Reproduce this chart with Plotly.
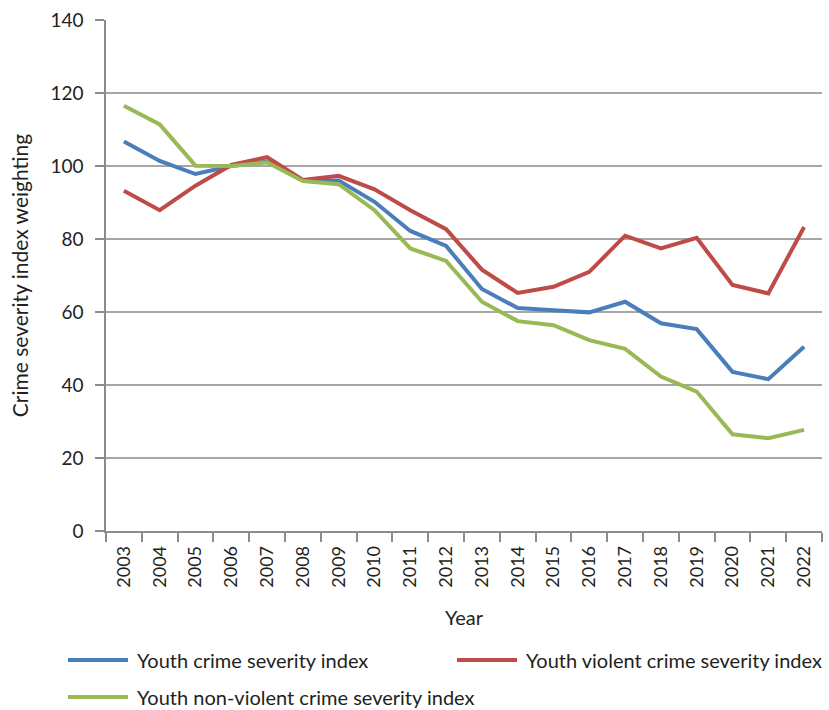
import plotly.graph_objects as go

years = [str(y) for y in range(2003, 2023)]

youth_crime_severity = [106.7, 101.4, 97.8, 100.0, 101.2, 96.1, 96.0, 90.2, 82.2, 78.1,
                        66.3, 61.1, 60.5, 59.9, 62.8, 56.9, 55.3, 43.6, 41.6, 50.5]
youth_violent_severity = [93.2, 87.9, 94.6, 100.3, 102.4, 96.2, 97.3, 93.6, 87.9, 82.7,
                          71.6, 65.2, 66.9, 71.0, 80.9, 77.4, 80.3, 67.4, 65.1, 83.3]
youth_nonviolent_severity = [116.5, 111.4, 100.1, 100.0, 101.0, 95.9, 95.0, 87.9, 77.4, 74.0,
                             62.8, 57.5, 56.4, 52.3, 49.9, 42.3, 38.2, 26.5, 25.4, 27.7]

series_names = ["Youth crime severity index",
                "Youth violent crime severity index",
                "Youth non-violent crime severity index"]
series_values = [youth_crime_severity, youth_violent_severity, youth_nonviolent_severity]
series_colors = ["#4a7ebb", "#be4b48", "#98b954"]

FONT = "Lato"
TEXT = "#231f20"
AXIS = "#8c8c8c"

# plot area in pixels: x 106..822, y 20..531
W, H = 829, 710
L, R, T, B = 106, 7, 20, 179
PW, PH = W - L - R, H - T - B


def px_x(x):
    return (x - L) / PW


def px_y(y):
    return (H - B - y) / PH


fig = go.Figure()
for name, vals, color in zip(series_names, series_values, series_colors):
    fig.add_trace(go.Scatter(
        x=years, y=vals, name=name, mode="lines",
        line=dict(color=color, width=4), showlegend=False,
    ))

# legend drawn below the chart: two entries on the first row, one on the second
legend_slots = [(68, 660), (457, 660), (68, 697)]
for (lx, ly), name, color in zip(legend_slots, series_names, series_colors):
    fig.add_shape(type="line", xref="paper", yref="paper",
                  x0=px_x(lx), x1=px_x(lx + 60), y0=px_y(ly), y1=px_y(ly),
                  line=dict(color=color, width=4))
    fig.add_annotation(xref="paper", yref="paper", x=px_x(lx + 67), y=px_y(ly),
                       xanchor="left", yanchor="middle", showarrow=False,
                       text=name, font=dict(family=FONT, size=20, color=TEXT))

fig.update_layout(
    width=W, height=H,
    margin=dict(l=L, r=R, t=T, b=B, autoexpand=False),
    paper_bgcolor="white", plot_bgcolor="white",
    font=dict(family=FONT, size=20, color=TEXT),
    showlegend=False,
)

fig.update_xaxes(
    type="category", range=[-0.5, 19.5],
    tickson="boundaries", ticks="outside", ticklen=9, tickcolor=AXIS, tickwidth=1.5,
    tickangle=-90, tickfont=dict(size=18, color=TEXT), ticklabelstandoff=6,
    showgrid=False, showline=True, linecolor=AXIS, linewidth=1.5,
    title=dict(text="Year", font=dict(size=20), standoff=24),
    automargin=False,
)
fig.update_yaxes(
    range=[0, 140], dtick=20, ticks="outside", ticklen=9, tickcolor=AXIS, tickwidth=1.5,
    tickfont=dict(size=19, color=TEXT), ticklabelstandoff=8,
    showgrid=True, gridcolor="#a6a6a6", gridwidth=1.5,
    showline=True, linecolor=AXIS, linewidth=1.5, zeroline=False,
    title=dict(text="Crime severity index weighting", font=dict(size=21), standoff=16),
    automargin=False,
)

fig.write_html("out.html")
